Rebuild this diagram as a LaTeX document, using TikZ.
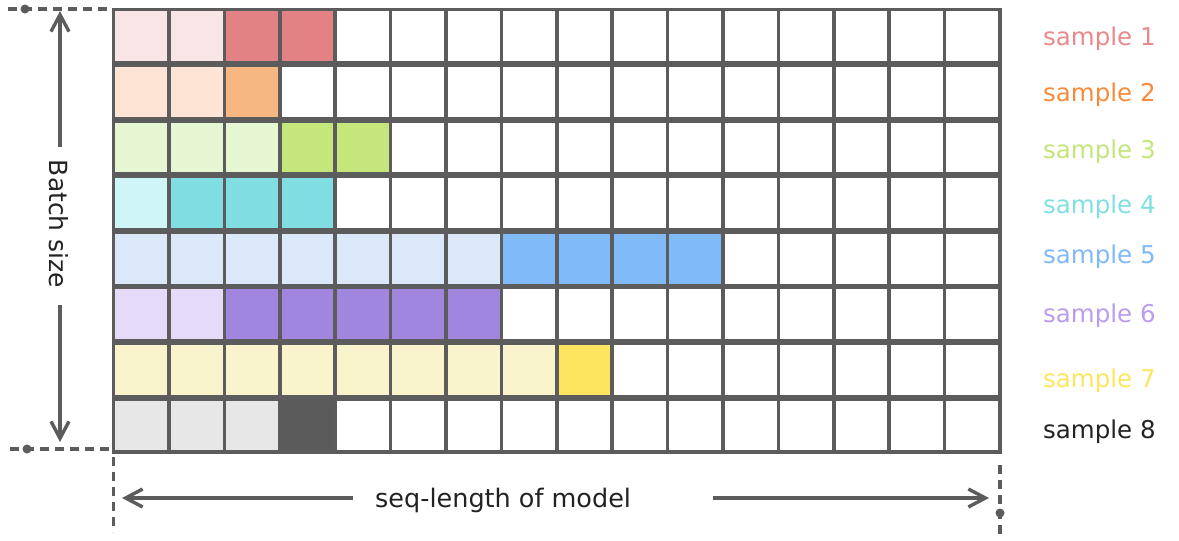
\documentclass[tikz,border=0pt]{standalone}
\usepackage{fontspec}
\setmainfont{DejaVu Sans}
\usetikzlibrary{arrows.meta}
\definecolor{gridc}{HTML}{5B5C5B}
\definecolor{txt}{HTML}{222222}
\definecolor{sAl}{HTML}{F9E5E6}\definecolor{sAd}{HTML}{E28284}\definecolor{sAt}{HTML}{E8898B}
\definecolor{sBl}{HTML}{FDE4D4}\definecolor{sBd}{HTML}{F6B782}\definecolor{sBt}{HTML}{F68B3B}
\definecolor{sCl}{HTML}{E7F6D2}\definecolor{sCd}{HTML}{C4E67B}\definecolor{sCt}{HTML}{C2E57C}
\definecolor{sDl}{HTML}{D0F5F7}\definecolor{sDd}{HTML}{80DEE2}\definecolor{sDt}{HTML}{80DFE2}
\definecolor{sEl}{HTML}{DAE8FA}\definecolor{sEd}{HTML}{80BAF8}\definecolor{sEt}{HTML}{80B8F8}
\definecolor{sFl}{HTML}{E6DAF9}\definecolor{sFd}{HTML}{A186E0}\definecolor{sFt}{HTML}{B99BF0}
\definecolor{sGl}{HTML}{F9F4CC}\definecolor{sGd}{HTML}{FDE55F}\definecolor{sGt}{HTML}{FDE55F}
\definecolor{sHl}{HTML}{E6E7E6}\definecolor{sHd}{HTML}{5A5B5A}\definecolor{sHt}{HTML}{222222}
\begin{document}
\begin{tikzpicture}[x=1pt,y=-1pt,
  cell/.style={draw=gridc,line width=3.6pt},
  lbl/.style={anchor=base west,inner sep=0pt,font=\fontsize{24.5}{28}\selectfont},
  guide/.style={draw=gridc,line width=3.4pt,dash pattern=on 9pt off 6pt},
  arr/.style={draw=gridc,line width=3.4pt,-{Straight Barb[length=17pt,width=18pt]}},
  dotc/.style={fill=gridc,circle,inner sep=0pt,minimum size=9pt}]
\useasboundingbox (0,0) rectangle (1179,541);
% grid rows
\foreach \r/\nl/\nd/\k in {0/2/2/A,1/2/1/B,2/3/2/C,3/1/3/D,4/7/4/E,5/2/5/F,6/8/1/G,7/3/1/H}{
  \fill[s\k l] (113.5,{9.5+55.6*\r}) rectangle ++({55.4*\nl},53.5);
  \fill[s\k d] ({113.5+55.4*\nl},{9.5+55.6*\r}) rectangle ++({55.4*\nd},53.5);
  \foreach \c in {0,...,15}{
    \draw[cell] ({113.5+55.4*\c},{9.5+55.6*\r}) rectangle ++(55.4,53.5);
  }
}
% labels
\foreach \i/\k/\y in {1/A/45,2/B/101,3/C/158,4/D/213,5/E/263,6/F/322,7/G/387,8/H/438}{
  \node[lbl,text=s\k t] (lab\i) at (1043,\y) {sample \i};
}
% guides
\coordinate (gtA) at (8,9);   \coordinate (gtB) at (110,9);
\coordinate (gbA) at (10,449); \coordinate (gbB) at (111,449);
\coordinate (glA) at (113.5,457); \coordinate (glB) at (113.5,532);
\coordinate (grA) at (1000,465); \coordinate (grB) at (1000,535);
\draw[guide] (gtA) -- (gtB);
\draw[guide] (gbA) -- (gbB);
\draw[guide] (glA) -- (glB);
\draw[guide] (grA) -- (grB);
\node[dotc] (dt) at (25,9) {};
\node[dotc] (db) at (27,449) {};
\node[dotc] (dr) at (1000,513) {};
% batch size
\node[rotate=-90,text=txt,inner sep=0pt,font=\fontsize{25}{28}\selectfont] (bs) at (59,224) {Batch size};
\coordinate (vtA) at (60,147); \coordinate (vtB) at (60,11);
\coordinate (vbA) at (60,305); \coordinate (vbB) at (60,442);
\draw[arr] (vtA) -- (vtB);
\draw[arr] (vbA) -- (vbB);
% seq-length
\node[anchor=base west,inner sep=0pt,text=txt,font=\fontsize{25.5}{28}\selectfont] (seq) at (375,507) {seq-length of model};
\coordinate (hlA) at (353,498); \coordinate (hlB) at (122,498);
\coordinate (hrA) at (713,498); \coordinate (hrB) at (989,498);
\draw[arr] (hlA) -- (hlB);
\draw[arr] (hrA) -- (hrB);
\end{tikzpicture}
\end{document}
